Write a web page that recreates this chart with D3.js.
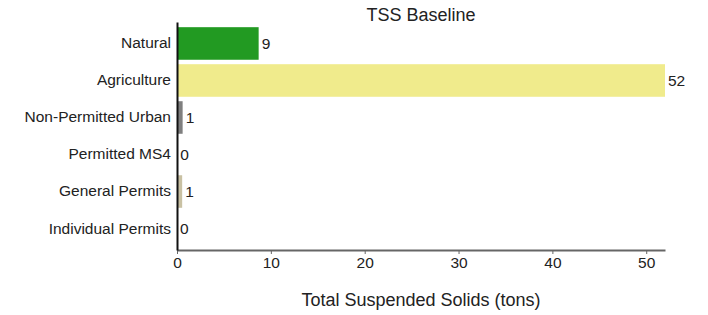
<!DOCTYPE html>
<html>
<head>
<meta charset="utf-8">
<script src="https://cdn.jsdelivr.net/npm/d3@7"></script>
<style>
  body { margin: 0; background: #fff; }
  text { font-family: "Liberation Sans", Arial, sans-serif; fill: #222; }
</style>
</head>
<body>
<div id="chart"></div>
<script>
// Data
var categories = ["Natural", "Agriculture", "Non-Permitted Urban", "Permitted MS4", "General Permits", "Individual Permits"];
var values = [8.7, 52.0, 0.6, 0.02, 0.55, 0.0];
var colors = ["#229a22", "#f0eb8c", "#7f7f7f", "#9a9a9a", "#c9c1a3", "#999999"];
var xTicks = [0, 10, 20, 30, 40, 50];

var svgWidth = 708;
var svgHeight = 315;

var margin = { top: 22, right: 43, bottom: 65, left: 177 };
var width = svgWidth - margin.left - margin.right;
var height = svgHeight - margin.top - margin.bottom;

var svg = d3.select("#chart")
  .append("svg")
  .attr("width", svgWidth)
  .attr("height", svgHeight);

var chartGroup = svg.append("g")
  .attr("transform", `translate(${margin.left}, ${margin.top})`);

var data = categories.map(function(c, i) {
  return { name: c, value: values[i], color: colors[i] };
});

var xScale = d3.scaleLinear()
  .domain([0, 52])
  .range([0, width]);

var yScale = d3.scaleBand()
  .domain(categories)
  .range([0, height])
  .paddingInner(0.12)
  .paddingOuter(0.14);

// bars
chartGroup.selectAll("rect.bar")
  .data(data)
  .enter()
  .append("rect")
  .attr("class", "bar")
  .attr("x", 0)
  .attr("y", d => yScale(d.name))
  .attr("width", d => xScale(d.value))
  .attr("height", yScale.bandwidth())
  .attr("fill", d => d.color);

// value labels
chartGroup.selectAll("text.val")
  .data(data)
  .enter()
  .append("text")
  .attr("class", "val")
  .attr("x", d => xScale(d.value) + 3)
  .attr("y", d => yScale(d.name) + yScale.bandwidth() / 2)
  .attr("dy", "0.35em")
  .attr("font-size", "15.5px")
  .text(d => Math.round(d.value));

// x axis
var bottomAxis = d3.axisBottom(xScale)
  .tickValues(xTicks)
  .tickSize(4)
  .tickSizeOuter(0);

var xAxis = chartGroup.append("g")
  .attr("transform", `translate(0, ${height})`)
  .call(bottomAxis);
xAxis.select(".domain").attr("stroke", "#666").attr("stroke-width", 2);
xAxis.selectAll(".tick line").attr("stroke", "#666");
xAxis.selectAll(".tick text")
  .attr("font-size", "15.5px")
  .attr("font-family", "Liberation Sans, Arial, sans-serif")
  .attr("fill", "#222")
  .attr("y", 7)
  .attr("dy", "0.71em");

// y axis
var leftAxis = d3.axisLeft(yScale).tickSize(0).tickPadding(6);
var yAxis = chartGroup.append("g").call(leftAxis);
yAxis.select(".domain").attr("stroke", "#111").attr("stroke-width", 2);
yAxis.selectAll(".tick text")
  .attr("font-size", "15.5px")
  .attr("font-family", "Liberation Sans, Arial, sans-serif")
  .attr("fill", "#222");

// title
svg.append("text")
  .attr("x", margin.left + width / 2)
  .attr("y", 21)
  .attr("text-anchor", "middle")
  .attr("font-size", "18px")
  .text("TSS Baseline");

// x axis label
svg.append("text")
  .attr("x", margin.left + width / 2)
  .attr("y", 306)
  .attr("text-anchor", "middle")
  .attr("font-size", "18px")
  .text("Total Suspended Solids (tons)");
</script>
</body>
</html>
